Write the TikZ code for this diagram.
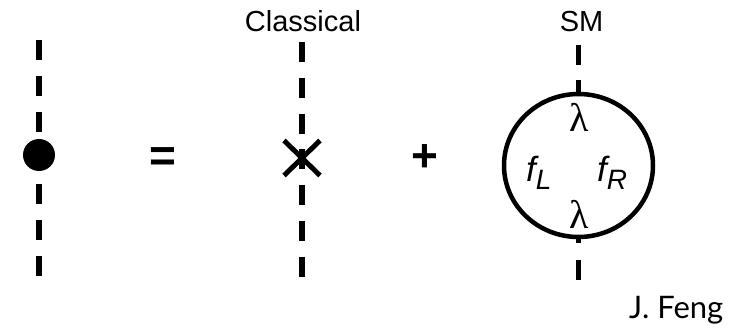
\documentclass[tikz,border=0pt]{standalone}
\usepackage{fontspec}
\setmainfont{Liberation Sans}
\newfontfamily\greekfont{Liberation Serif}
\newfontfamily\sigfont{Lato}
\usetikzlibrary{shapes.misc,shapes.geometric}
\begin{document}
\begin{tikzpicture}[x=1pt,y=-1pt,
  dline/.style={line width=5.5pt, line cap=butt},
  label29/.style={inner sep=0pt, font=\fontsize{29}{29}\selectfont},
  opsign/.style={inner sep=0pt, font=\fontsize{46}{46}\selectfont\bfseries},
  lam/.style={inner sep=0pt, font=\fontsize{40}{40}\selectfont\greekfont},
  flab/.style={inner sep=0pt, font=\fontsize{35}{35}\selectfont\itshape}]
\useasboundingbox (0,0) rectangle (740,334);
% left diagram
\coordinate (lt) at (39,40);
\coordinate (lb) at (39,276);
\draw[dline, dash pattern=on 20pt off 16pt] (lt) -- (lb);
\node[circle, fill=black, minimum size=32pt, inner sep=0pt] (dot) at (39,155) {};
% equals
\node[opsign] (eq) at (162.5,159.5) {=};
% classical
\node[label29, anchor=base] (cl) at (303,31.5) {Classical};
\coordinate (ct) at (302,42);
\coordinate (cb) at (302,277);
\draw[dline, dash pattern=on 20pt off 15.83pt] (ct) -- (cb);
\node[cross out, draw, line width=5pt, minimum width=31pt, minimum height=30pt, inner sep=0pt] (x) at (302,158) {};
% plus
\node[opsign] (plus) at (425,158.5) {+};
% SM
\node[label29, anchor=base] (sm) at (581.5,32) {SM};
\node[ellipse, draw, line width=4.5pt, minimum width=149pt, minimum height=143pt, inner sep=0pt] (loop) at (578.5,165.5) {};
\coordinate (st) at (578.5,45);
\coordinate (sb) at (578.5,280);
\draw[line width=5pt, dash pattern=on 20pt off 15pt] (st) -- (loop.north);
\draw[line width=5pt, dash pattern=on 20pt off 17pt] (sb) -- (loop.south);
\node[lam] (l1) at (579,117) {λ};
\node[lam] (l2) at (579,214) {λ};
\node[flab, anchor=base west] (fl) at (526,182) {f\raisebox{-8pt}{\fontsize{28}{28}\selectfont L}};
\node[flab, anchor=base west] (fr) at (597,182) {f\raisebox{-8pt}{\fontsize{28}{28}\selectfont R}};
% signature
\node[inner sep=0pt, anchor=base west, font=\fontsize{31}{31}\selectfont\sigfont] (sig) at (629,318) {J. Feng};
\end{tikzpicture}
\end{document}
